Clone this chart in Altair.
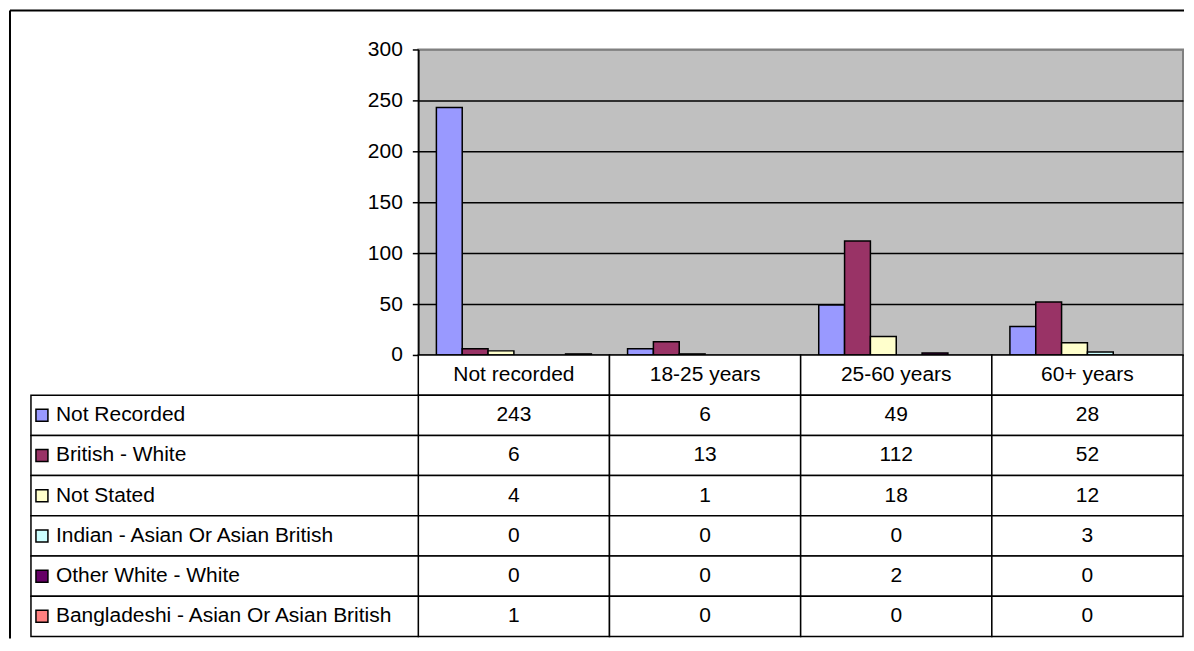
import altair as alt
import pandas as pd

FONT = "Liberation Sans"
FS = 21

categories = ["Not recorded", "18-25 years", "25-60 years", "60+ years"]
series = [
    "Not Recorded",
    "British - White",
    "Not Stated",
    "Indian - Asian Or Asian British",
    "Other White - White",
    "Bangladeshi - Asian Or Asian British",
]
colors = ["#9999FF", "#993366", "#FFFFCC", "#CCFFFF", "#660066", "#FF8080"]

not_recorded = [243, 6, 49, 28]
british_white = [6, 13, 112, 52]
not_stated = [4, 1, 18, 12]
indian = [0, 0, 0, 3]
other_white = [0, 0, 2, 0]
bangladeshi = [1, 0, 0, 0]

y_ticks = [0, 50, 100, 150, 200, 250, 300]

series_values = [not_recorded, british_white, not_stated, indian, other_white, bangladeshi]
records = []
for s, vals in zip(series, series_values):
    for c, v in zip(categories, vals):
        records.append({"series": s, "row": s, "category": c, "value": v})
df = pd.DataFrame(records)

W, H = 766, 306
TABLE_H = 282

xscale = alt.Scale(domain=categories, paddingInner=0, paddingOuter=0)

bars = (
    alt.Chart(df)
    .transform_filter("datum.value > 0")
    .mark_bar(stroke="black", strokeWidth=1.5, opacity=1)
    .encode(
        x=alt.X("category:N", scale=xscale, axis=None, sort=None),
        xOffset=alt.XOffset(
            "series:N",
            scale=alt.Scale(domain=series, paddingInner=0, paddingOuter=0.7),
            sort=None,
        ),
        y=alt.Y(
            "value:Q",
            scale=alt.Scale(domain=[0, 300], nice=False, zero=True),
            axis=alt.Axis(
                values=y_ticks,
                title=None,
                grid=True,
                gridColor={
                    "condition": {"test": "datum.value >= 300", "value": "#808080"},
                    "value": "black",
                },
                gridWidth=1.5,
                domainColor="black",
                domainWidth=1.5,
                tickColor="black",
                tickSize=6,
                tickWidth=1.5,
                labelFont=FONT,
                labelFontSize=FS,
                labelColor="black",
                labelPadding=10,
            ),
        ),
        color=alt.Color("series:N", scale=alt.Scale(domain=series, range=colors), legend=None),
    )
)

anchor = pd.DataFrame({"k": [0]})
left_border = alt.Chart(anchor).mark_rule(color="black", strokeWidth=2).encode(
    x=alt.value(-409), y=alt.value(-39), y2=alt.value(590)
)
top_border = alt.Chart(anchor).mark_rule(color="black", strokeWidth=2).encode(
    x=alt.value(-409), x2=alt.value(767), y=alt.value(-39)
)

top = alt.layer(bars, left_border, top_border).properties(
    width=W,
    height=H,
    view=alt.ViewBackground(fill="#C0C0C0", stroke="#808080", strokeWidth=2),
)

# ---- data table ----
row_domain = ["header"] + series
yscale = alt.Scale(domain=row_domain, paddingInner=0, paddingOuter=0)

cells = pd.DataFrame([{"category": c, "row": r} for c in categories for r in row_domain])
cell_rect = alt.Chart(cells).mark_rect(fill="white", stroke="black", strokeWidth=1.5).encode(
    x=alt.X("category:N", scale=xscale, axis=None, sort=None),
    y=alt.Y("row:N", scale=yscale, axis=None, sort=None),
)

labels_df = pd.DataFrame({"row": series})
label_rect = alt.Chart(labels_df).mark_rect(fill="white", stroke="black", strokeWidth=1.5).encode(
    x=alt.value(-388),
    x2=alt.value(0),
    y=alt.Y("row:N", scale=yscale, axis=None, sort=None),
)

header_df = pd.DataFrame({"category": categories, "row": ["header"] * len(categories)})
header_text = alt.Chart(header_df).mark_text(
    font=FONT, fontSize=FS, color="black", baseline="middle", align="center"
).encode(
    x=alt.X("category:N", scale=xscale, axis=None, sort=None),
    y=alt.Y("row:N", scale=yscale, axis=None, sort=None),
    text="category:N",
)

value_text = alt.Chart(df).mark_text(
    font=FONT, fontSize=FS, color="black", baseline="middle", align="center"
).encode(
    x=alt.X("category:N", scale=xscale, axis=None, sort=None),
    y=alt.Y("row:N", scale=yscale, axis=None, sort=None),
    text=alt.Text("value:Q", format="d"),
)

label_text = alt.Chart(labels_df).mark_text(
    font=FONT, fontSize=FS, color="black", baseline="middle", align="left"
).encode(
    x=alt.value(-363),
    y=alt.Y("row:N", scale=yscale, axis=None, sort=None),
    text="row:N",
)

swatch = alt.Chart(labels_df).mark_square(size=144, stroke="black", strokeWidth=1.5, opacity=1).encode(
    x=alt.value(-377),
    y=alt.Y("row:N", scale=yscale, axis=None, sort=None),
    fill=alt.Fill("row:N", scale=alt.Scale(domain=series, range=colors), legend=None),
)

bottom = alt.layer(cell_rect, label_rect, header_text, value_text, label_text, swatch).properties(
    width=W, height=TABLE_H
)

chart = (
    alt.vconcat(top, bottom, spacing=0, bounds="flush")
    .properties(padding=0, background="white")
    .configure_view(stroke=None)
)

chart.save("out.html", embed_options={"renderer": "svg", "actions": False})
